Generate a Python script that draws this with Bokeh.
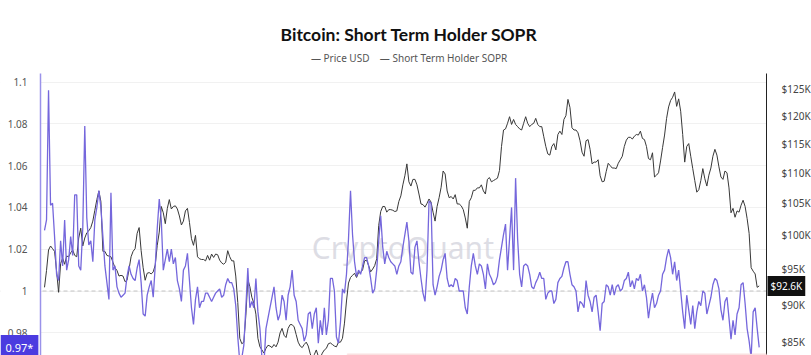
import numpy as np
from bokeh.plotting import figure
from bokeh.models import (Range1d, LogScale, LogAxis, LinearAxis, FixedTicker,
                          CustomJSTickFormatter, Span, Label, BoxAnnotation)
from bokeh.embed import file_html
from bokeh.resources import INLINE

# ---------------- data ----------------
sopr = [
    1.029, 1.034, 1.096, 1.041, 1.042, 1.026, 1.008, 1.005, 1.024, 1.012, 1.034, 1.010, 1.015,
    1.026, 1.017, 1.046, 1.046, 1.012, 1.010, 1.030, 1.079, 1.035, 1.022, 1.024, 1.014, 1.034,
    1.040, 1.048, 1.040, 1.026, 1.012, 1.004, 0.996, 1.047, 1.010, 1.012, 1.002, 0.999, 0.997,
    0.998, 0.999, 1.007, 1.012, 1.008, 1.006, 1.005, 1.011, 1.015, 1.004, 0.989, 0.988, 0.998,
    1.002, 1.005, 0.997, 1.012, 1.030, 1.044, 1.034, 1.010, 1.015, 1.020, 1.014, 1.020, 1.013,
    1.016, 1.005, 1.001, 0.995, 1.010, 1.012, 1.018, 1.005, 0.992, 0.984, 0.996, 1.002, 0.992,
    0.995, 0.995, 0.999, 0.999, 0.997, 0.995, 0.997, 0.999, 1.000, 1.001, 0.997, 0.998, 1.003,
    1.006, 1.004, 1.004, 1.001, 0.993, 0.978, 0.966, 0.968, 0.974, 0.992, 1.011, 0.992,
    0.995, 0.992, 1.006, 0.990, 0.982, 0.968, 0.965, 0.982, 0.987, 0.992, 0.997, 1.002, 0.992,
    0.986, 0.989, 0.998, 0.995, 0.986, 0.998, 1.002, 1.010, 0.998, 0.995, 0.986, 0.984, 0.982,
    0.976, 0.979, 0.989, 0.990, 0.982, 0.989, 0.992, 0.975, 0.986, 0.979, 0.992, 0.979, 0.986,
    1.006, 1.006, 1.000, 0.978, 0.975, 0.985, 1.001, 0.999, 1.008, 1.025, 1.048, 1.027, 1.014,
    1.007, 1.010, 1.008, 1.012, 1.016, 1.016, 1.012, 1.006, 0.999, 1.001, 1.010, 1.024, 1.036,
    1.021, 1.013, 1.019, 1.016, 1.014, 1.013, 1.012, 1.008, 1.012, 1.014, 1.021, 1.027, 1.033,
    1.024, 1.009, 1.008, 1.021, 1.024, 1.014, 1.006, 0.999, 0.995, 1.010, 1.043, 1.042, 1.003,
    0.998, 1.002, 1.007, 1.010, 1.015, 1.018, 1.006, 1.002, 1.003, 1.002, 1.006, 1.005, 1.000,
    1.000, 1.000, 0.992, 0.989, 1.002, 1.012, 1.018, 1.012, 1.008, 1.013, 1.012, 1.008, 1.001,
    1.013, 1.008, 1.006, 1.003, 1.004, 1.007, 1.015, 1.021, 1.027, 1.032, 1.010, 1.025, 1.040,
    1.010, 1.054, 1.025, 1.008, 1.002, 1.012, 1.013, 1.012, 1.008, 1.002, 1.001, 1.004, 1.006,
    1.009, 1.006, 1.006, 0.996, 0.999, 1.000, 1.000, 0.994, 0.996, 1.004, 1.006, 1.007, 1.011,
    1.014, 1.014, 1.008, 1.003, 1.002, 1.000, 0.990, 0.995, 0.994, 0.992, 1.005, 0.998, 0.995,
    0.990, 0.997, 0.998, 0.990, 0.981, 0.994, 0.995, 1.003, 1.002, 0.998, 1.003, 0.998, 1.002,
    1.003, 1.000, 1.001, 1.005, 1.006, 1.009, 1.002, 1.005, 1.001, 1.006, 1.005, 1.008, 1.000,
    1.003, 0.997, 0.987, 0.994, 0.999, 0.992, 0.994, 0.998, 1.000, 1.008, 1.010, 1.016, 1.020,
    1.016, 1.008, 1.014, 1.005, 1.010, 1.000, 0.990, 0.982, 0.998, 0.991, 0.984, 0.993, 0.982,
    0.990, 0.995, 0.993, 1.000, 0.999, 0.989, 0.993, 0.997, 1.003, 1.006, 1.005, 1.001, 0.991,
    0.986, 0.995, 0.997, 0.987, 0.977, 0.986, 0.979, 0.989, 0.992, 1.003, 1.004, 0.994, 0.982,
    0.976, 0.968, 0.990, 0.992, 0.982, 0.973,
]

price_k = [
    92.4, 94.8, 97.8, 98.4, 98.0, 97.6, 94.7, 91.7, 95.8, 96.6, 95.7, 96.9, 96.8, 97.4, 97.8,
    97.0, 96.8, 99.6, 101.1, 98.4, 99.6, 100.4, 100.7, 101.2, 102.2, 103.9, 105.6, 107.0, 105.3,
    97.6, 97.6, 97.0, 96.9, 96.8, 96.0, 95.2, 94.8, 94.0, 94.1, 94.0, 93.2, 93.4, 95.0, 96.8,
    97.6, 98.0, 100.3, 101.2, 97.7, 95.2, 93.4, 94.4,
    94.5, 94.3, 94.6, 95.6, 98.5, 100.5, 104.5, 103.5, 101.8, 104.2, 105.6, 104.1, 104.5, 104.6,
    104.1, 103.0, 101.6, 102.2, 103.8, 104.2, 102.0, 99.5, 98.5, 100.0, 96.8, 96.5, 96.4, 96.4,
    96.2, 97.0, 96.3, 97.2, 96.7, 97.2, 97.1, 96.3, 95.9, 95.7, 96.0, 97.7, 96.8, 96.2, 96.2,
    94.0, 90.3, 85.5, 84.8, 85.0, 88.5, 93.5, 92.5,
    91.0, 90.2, 88.7, 85.5, 84.4, 84.0, 83.6, 84.2, 84.6, 84.5, 84.3, 84.7, 84.4, 85.0, 86.2,
    86.8, 85.9, 85.6, 86.8, 87.3, 87.3, 87.0, 86.0, 85.0, 84.5, 84.3, 84.7, 85.0, 84.5, 83.5,
    82.8, 83.4, 84.0, 83.2, 83.0, 83.6, 84.0, 84.2, 84.8, 84.9, 84.7, 84.5, 84.4, 85.0, 85.0,
    85.5, 87.5, 90.5, 93.0, 93.8, 94.1, 94.4,
    93.8, 94.5, 94.5, 94.9, 96.2, 96.3, 95.5, 94.6, 95.0, 95.5, 96.5, 101.5, 103.7, 104.5, 104.5,
    103.6, 104.0, 104.0, 103.9, 103.7, 103.8, 105.3, 106.2, 108.0, 109.5, 111.5, 108.5, 107.8,
    108.9, 108.9, 108.0, 106.5, 104.9, 104.8, 104.4, 105.0, 105.7, 105.2, 103.6, 102.2, 104.5,
    105.9, 107.6, 110.3, 109.8, 107.0, 105.9, 106.1, 105.7, 106.4, 104.9, 104.9,
    104.6, 104.0, 102.7, 101.1, 105.3, 105.9, 107.1, 107.1, 107.5, 107.5, 108.0, 107.0, 106.5,
    108.9, 109.2, 108.5, 108.7, 108.9, 109.1, 110.4, 114.5, 117.4, 117.6, 118.6, 119.8, 118.4,
    119.3, 118.4, 118.0, 117.6, 117.4, 118.6, 119.8, 118.6, 118.0, 118.4, 118.6, 119.5, 118.4,
    118.0, 118.0, 116.2, 114.5, 113.2, 113.0, 114.5, 115.0, 113.9, 116.6, 117.2, 116.6, 119.3,
    120.0, 123.0, 121.5, 117.8, 117.4, 117.4, 116.9, 115.5, 113.5, 112.8, 115.5, 115.7, 114.0,
    111.5, 111.8, 111.8, 112.2, 109.5, 108.5, 108.6, 110.2, 111.6, 111.2, 110.8, 110.8, 110.7,
    111.6, 112.2, 112.8, 114.5, 115.6, 116.1, 116.1, 115.8, 116.3, 116.6, 116.5, 117.2, 115.9,
    115.7, 114.5, 112.4, 112.2, 113.4, 109.3, 109.6, 110.0, 112.0, 114.3, 116.5, 119.5, 121.6,
    122.8, 123.4, 124.4, 121.7, 123.1, 120.8, 116.6, 111.8, 114.5, 115.0, 112.8, 110.7, 108.7,
    106.8, 107.2, 108.7, 110.7, 109.0, 107.8, 109.6, 110.8, 112.8, 114.0, 113.0, 111.0, 109.3,
    108.9, 110.3, 110.0, 107.5, 103.5, 104.2, 102.8, 103.8, 103.6, 104.7, 105.5, 104.5, 102.6,
    100.3, 95.2, 94.7, 94.3, 92.4, 92.6,
]

sopr_ticks = [0.98, 1.0, 1.02, 1.04, 1.06, 1.08, 1.1]
price_ticks = [85000, 90000, 95000, 100000, 105000, 110000, 115000, 120000, 125000]

title_text = "Bitcoin: Short Term Holder SOPR"
legend_text = "\u2014 Price USD\u00a0\u00a0\u00a0 \u2014 Short Term Holder SOPR"
watermark = "CryptoQuant"

price = [v * 1000 for v in price_k]
days = list(range(len(sopr)))

# plot window in day units: the frame spans the whole canvas, the axes are pinned inside
x_lo, x_hi = -21.86, 380.98
axis_left_x, axis_right_x = -1.99, 358.63
sopr_lo, sopr_top_axis, sopr_hi = 0.96914, 1.10407, 1.13900
price_lo, price_top_axis, price_hi = 83293, 127946, 142980

# ---------------- figure ----------------
p = figure(width=811, height=355, output_backend="svg", toolbar_location=None,
           x_axis_location=None, y_axis_location=None, title=None,
           x_range=Range1d(x_lo, x_hi), y_range=Range1d(sopr_lo, sopr_hi),
           min_border=0)
p.outline_line_color = None
p.background_fill_color = "white"
p.border_fill_color = "white"

p.extra_y_ranges = {"price": Range1d(price_lo, price_hi)}
p.extra_y_scales = {"price": LogScale()}

# grid (left scale)
p.ygrid.ticker = FixedTicker(ticks=sopr_ticks)
p.ygrid.grid_line_color = "#f1f1f1"
p.xgrid.visible = False

# reference line at 1
p.add_layout(Span(location=1.0, dimension="width", line_color="#c4c4c4",
                  line_dash="4 3", line_width=1, level="underlay"))

# watermark
p.add_layout(Label(x=178, y=1.0208, text=watermark, text_font="Noto Sans",
                   text_font_size="30px", text_color="#d2d2dc", text_alpha=0.75,
                   text_align="center", text_baseline="middle", level="underlay"))

# keep grid and reference line between the two axes
p.add_layout(BoxAnnotation(right=axis_left_x, fill_color="white", fill_alpha=1.0,
                           line_color=None, level="underlay"))
p.add_layout(BoxAnnotation(left=axis_right_x, fill_color="white", fill_alpha=1.0,
                           line_color=None, level="underlay"))

# left axis (SOPR)
lax = LinearAxis(ticker=FixedTicker(ticks=sopr_ticks), fixed_location=axis_left_x,
                 bounds=(sopr_lo, sopr_top_axis),
                 formatter=CustomJSTickFormatter(code="return String(Number(tick.toFixed(2)));"))
lax.axis_line_color = "#9a92ea"
lax.axis_line_width = 1.5
lax.major_tick_line_color = None
lax.minor_tick_line_color = None
lax.major_label_standoff = 7
lax.major_label_text_font = "Noto Sans"
lax.major_label_text_font_size = "10px"
lax.major_label_text_color = "#555555"
p.add_layout(lax, "left")

# right axis (price, log)
rax = LogAxis(y_range_name="price", ticker=FixedTicker(ticks=price_ticks),
              fixed_location=axis_right_x, bounds=(price_lo, price_top_axis),
              formatter=CustomJSTickFormatter(code="return '$' + Math.round(tick/1000) + 'K';"))
rax.axis_line_color = "#222222"
rax.major_tick_line_color = None
rax.minor_tick_line_color = None
rax.major_label_standoff = 9
rax.major_label_text_font = "Noto Sans"
rax.major_label_text_font_size = "10px"
rax.major_label_text_color = "#444444"
p.add_layout(rax, "right")

# title and legend line
p.add_layout(Label(x=181.1, y=1.12273, text=title_text, text_font="Lato",
                   text_font_size="17.5px", text_font_style="bold", text_color="#111111",
                   text_align="center", text_baseline="middle"))
p.add_layout(Label(x=181.1, y=1.11148, text=legend_text, text_font="Noto Sans",
                   text_font_size="10px", text_color="#555555",
                   text_align="center", text_baseline="middle"))

# pink zone at bottom
p.add_layout(BoxAnnotation(left=150.5, right=axis_right_x, bottom=0.90, top=0.9699,
                           fill_color="#fdecec", fill_alpha=1.0,
                           line_color="#f6b8b8", line_width=1.5))

# lines
p.line(days, price, y_range_name="price", line_color="#383838", line_width=1)
p.line(days, sopr, line_color="#7567dc", line_width=1.3)

# last value boxes
p.add_layout(Label(x=axis_left_x, y=sopr[-1], x_offset=-40, text=f"{sopr[-1]:.2f}*",
                   text_font="Noto Sans", text_font_size="11px", text_color="white",
                   text_align="left", text_baseline="middle",
                   background_fill_color="#4b3be0", padding=5))
p.add_layout(Label(x=axis_right_x, y=price[-1], y_range_name="price", x_offset=1,
                   text=f"${price_k[-1]:.1f}K", text_font="Noto Sans", text_font_size="10px",
                   text_color="white", text_align="left", text_baseline="middle",
                   background_fill_color="#111111", padding=3))

open("out.html", "w").write(file_html(p, INLINE))
